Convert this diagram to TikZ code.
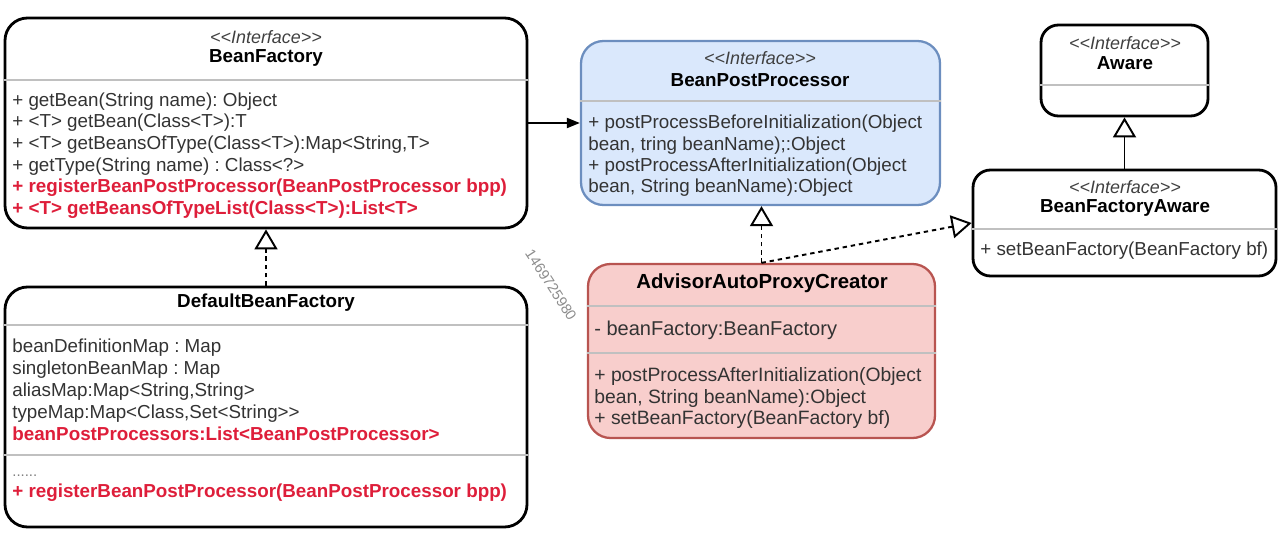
\documentclass[tikz,border=0pt]{standalone}
\usepackage{fontspec}
\setmainfont{Liberation Sans}[Ligatures=TeXOff]
\usetikzlibrary{arrows.meta,fit}
\frenchspacing

\definecolor{bppfill}{HTML}{DAE8FC}
\definecolor{bppdraw}{HTML}{6C8EBF}
\definecolor{aapcfill}{HTML}{F8CECC}
\definecolor{aapcdraw}{HTML}{B85450}
\definecolor{newred}{RGB}{222,30,58}
\definecolor{sepgray}{RGB}{192,192,192}

\begin{document}
\begin{tikzpicture}[
  x=0.02cm, y=-0.02cm,
  umlbox/.style={draw, line width=1.6pt, rounded corners=4.5mm, inner sep=0pt},
  smallbox/.style={umlbox, rounded corners=3.5mm},
  bluebox/.style={umlbox, draw=bppdraw, fill=bppfill, line width=1.3pt},
  redbox/.style={umlbox, draw=aapcdraw, fill=aapcfill, line width=1.3pt},
  stereotype/.style={inner sep=0pt, text=black!75, font=\fontsize{10.2}{12}\selectfont\itshape},
  classname/.style={inner sep=0pt, font=\fontsize{10.7}{12.3}\selectfont\bfseries},
  members/.style={anchor=west, align=left, inner sep=0pt, text=black!80, font=\fontsize{10.7}{12.4}\selectfont},
  sepline/.style={draw=sepgray, line width=1pt},
  realize/.style={line width=1.1pt, dash pattern=on 2.5pt off 2.2pt, -{Triangle[fill=white, length=4mm, width=4.6mm]}},
  extend/.style={line width=1.1pt, -{Triangle[fill=white, length=4mm, width=4.6mm]}},
  assoc/.style={line width=1.1pt, -{Triangle[length=2.6mm, width=2mm]}},
  watermark/.style={inner sep=0pt, text=black!45, font=\fontsize{8.3}{10}\selectfont}
]
\useasboundingbox (0,0) rectangle (1280,544);

% BeanFactory
\node[umlbox, fit={(5,18) (527,228)}] (bf) {};
\node[stereotype] (bfst) at (266,37) {<<Interface>>};
\node[classname] (bfname) at (266,58) {BeanFactory};
\draw[sepline] (bf.west |- 0,80) -- (bf.east |- 0,80);
\node[members, font=\fontsize{10.7}{12.36}\selectfont] (bfops) at (12,155.5) {+ getBean(String name): Object\\
  + <T> getBean(Class<T>):T\\
  + <T> getBeansOfType(Class<T>):Map<String,T>\\
  + getType(String name) : Class<?>\\
  {\color{newred}\bfseries + registerBeanPostProcessor(BeanPostProcessor bpp)}\\
  {\color{newred}\bfseries + <T> getBeansOfTypeList(Class<T>):List<T>}};

% DefaultBeanFactory
\node[umlbox, fit={(5,287) (527,527)}] (dbf) {};
\node[classname] (dbfname) at (266,303) {DefaultBeanFactory};
\draw[sepline] (dbf.west |- 0,325) -- (dbf.east |- 0,325);
\draw[sepline] (dbf.west |- 0,455) -- (dbf.east |- 0,455);
\node[members, font=\fontsize{10.7}{12.47}\selectfont] (dbfattr) at (12,390) {beanDefinitionMap : Map\\
  singletonBeanMap : Map\\
  aliasMap:Map<String,String>\\
  typeMap:Map<Class,Set<String>>\\
  {\color{newred}\bfseries beanPostProcessors:List<BeanPostProcessor>}};
\node[members, font=\fontsize{10.7}{11.6}\selectfont] (dbfops) at (12,488) {{\color{black!50}\fontsize{8.5}{9}\selectfont ......}\\
  {\color{newred}\bfseries + registerBeanPostProcessor(BeanPostProcessor bpp)}};

% BeanPostProcessor
\node[bluebox, fit={(581,41) (940,205)}] (bpp) {};
\node[stereotype] (bppst) at (760,58) {<<Interface>>};
\node[classname] (bppname) at (760,80) {BeanPostProcessor};
\draw[sepline] (bpp.west |- 0,101) -- (bpp.east |- 0,101);
\node[members, font=\fontsize{10.7}{12.1}\selectfont] (bppops) at (588,156) {+ postProcessBeforeInitialization(Object\\
  bean, tring beanName);:Object\\
  + postProcessAfterInitialization(Object\\
  bean, String beanName):Object};

% AdvisorAutoProxyCreator
\node[redbox, fit={(588,264) (935,438)}] (aapc) {};
\node[classname, font=\fontsize{11.6}{13}\selectfont\bfseries] (aapcname) at (762,283) {AdvisorAutoProxyCreator};
\draw[sepline] (aapc.west |- 0,306) -- (aapc.east |- 0,306);
\draw[sepline] (aapc.west |- 0,353) -- (aapc.east |- 0,353);
\node[members, font=\fontsize{11.4}{12.5}\selectfont] (aapcattr) at (594,330) {- beanFactory:BeanFactory};
\node[members, font=\fontsize{11}{12.5}\selectfont] (aapcops) at (594,398) {+ postProcessAfterInitialization(Object\\
  bean, String beanName):Object\\
  + setBeanFactory(BeanFactory bf)};

% Aware
\node[smallbox, fit={(1041,25) (1208,116)}] (aw) {};
\node[stereotype] (awst) at (1125,43) {<<Interface>>};
\node[classname] (awname) at (1125,63) {Aware};
\draw[sepline] (aw.west |- 0,85) -- (aw.east |- 0,85);

% BeanFactoryAware
\node[smallbox, fit={(973,170) (1276,276)}] (bfa) {};
\node[stereotype] (bfast) at (1125,187) {<<Interface>>};
\node[classname] (bfaname) at (1125,208) {BeanFactoryAware};
\draw[sepline] (bfa.west |- 0,229) -- (bfa.east |- 0,229);
\node[members] (bfaops) at (980,251) {+ setBeanFactory(BeanFactory bf)};

% watermark
\node[watermark, rotate=-57] (wm) at (551,285) {1469725980};

% Connections
\draw[assoc] (bf) -- (bpp);
\draw[realize] (dbf.north) -- (bf.south);
\draw[realize] (aapc.north) -- (aapc.north |- bpp.south);
\draw[realize] (aapc.north) -- (bfa.west);
\draw[extend] (bfa.north) -- (aw.south);

\end{tikzpicture}
\end{document}
